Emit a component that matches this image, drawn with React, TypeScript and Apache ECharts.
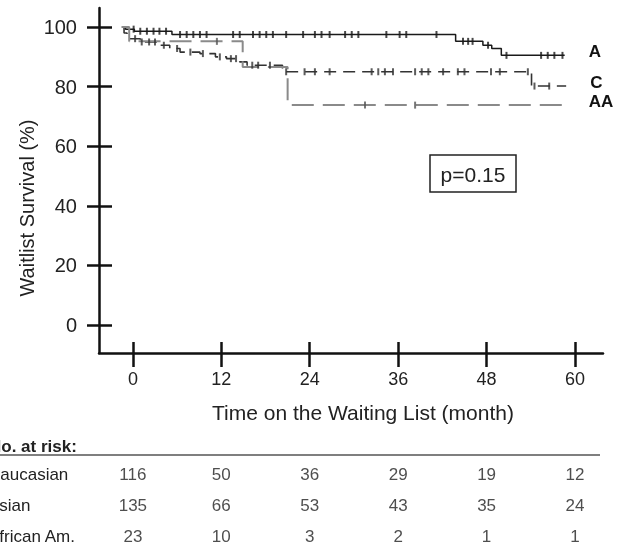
import React, { useEffect, useRef } from "react";
import * as echarts from "echarts";

// ---- Data ----
const xTicks = [0, 12, 24, 36, 48, 60];
const yTicks = [0, 20, 40, 60, 80, 100];

// Kaplan-Meier steps (time in months, survival %)
const aTimes = [-1.5, -1.0, 0.2, 5.3, 43.8, 47.5, 48.7, 50.0, 58.6];
const aSurv = [100, 99.3, 98.6, 97.5, 95.2, 93.9, 92.8, 90.5, 90.5];
const aCensor = [0.1, 1.0, 1.9, 2.8, 3.6, 4.5, 6.4, 7.3, 8.2, 9.1, 10.0, 13.6, 14.5, 16.3, 17.2, 18.1, 19.0, 20.8, 23.1, 24.7, 25.6, 26.7, 28.8, 29.7, 30.6, 34.4, 36.2, 37.1, 41.2, 44.8, 45.5, 46.1, 48.2, 50.7, 55.4, 56.3, 57.2, 58.3];

const cTimes = [-1.5, -1.2, -0.8, 1.0, 3.7, 5.0, 6.4, 9.1, 11.2, 12.7, 14.5, 15.5, 20.3, 54.1, 58.8];
const cSurv = [100, 98.0, 96.1, 95.0, 93.9, 92.8, 91.6, 91.1, 90.0, 89.4, 88.3, 87.2, 85.0, 80.2, 80.2];
const cCensor = [0.3, 1.2, 2.2, 3.0, 4.2, 6.0, 7.8, 9.5, 11.8, 13.3, 14.0, 16.2, 17.0, 18.6, 20.8, 23.3, 24.7, 26.7, 32.4, 33.3, 34.2, 35.3, 38.3, 39.2, 40.1, 42.1, 44.1, 45.0, 48.6, 49.8, 53.6, 54.5, 56.5];

const aaTimes = [-1.5, -0.5, 14.9, 21.0, 58.6];
const aaSurv = [100, 95.2, 86.6, 73.8, 73.8];
const aaCensor = [11.4, 31.5, 38.3];

// Number at risk table
const riskTimes = [0, 12, 24, 36, 48, 60];
const riskGroups = ["Caucasian", "Asian", "African Am."];
const riskCaucasian = [116, 50, 36, 29, 19, 12];
const riskAsian = [135, 66, 53, 43, 35, 24];
const riskAfrican = [23, 10, 3, 2, 1, 1];

const FONT = "'Liberation Sans', Arial, sans-serif";

function survAt(times: number[], surv: number[], t: number) {
  let v = surv[0];
  for (let i = 0; i < times.length; i++) {
    if (times[i] <= t) v = surv[i];
  }
  return v;
}

export default function App() {
  const ref = useRef<HTMLDivElement>(null);
  useEffect(() => {
    if (!ref.current) return;
    const chart = echarts.init(ref.current, undefined, { renderer: "svg" });
    const axisColor = "#111";
    const xMin = -4.6, xMax = 63.8, yMin = -9.4, yMax = 106.4;

    const kmSeries = (name: string, times: number[], surv: number[], color: string, width: number, type: any) => ({
      name,
      type: "line",
      xAxisIndex: 0,
      yAxisIndex: 0,
      step: "end",
      symbol: "none",
      data: times.map((t, i) => [t, surv[i]]),
      lineStyle: { color, width, type },
      endLabel: {
        show: true,
        formatter: "{a}",
        distance: 24,
        offset: [0, -4],
        fontFamily: FONT,
        fontWeight: "bold",
        fontSize: 17,
        color: "#111",
      },
      z: 3,
    });
    const censorSeries = (times: number[], surv: number[], censor: number[], color: string) => ({
      type: "scatter",
      xAxisIndex: 0,
      yAxisIndex: 0,
      symbol: "rect",
      symbolSize: [2, 7],
      itemStyle: { color },
      data: censor.map((t) => [t, survAt(times, surv, t)]),
      z: 4,
    });
    const riskSeries = (group: string, values: number[]) => ({
      type: "scatter",
      xAxisIndex: 2,
      yAxisIndex: 2,
      symbolSize: 0,
      data: riskTimes.map((t, i) => [t, group, values[i]]),
      label: {
        show: true,
        position: "inside",
        formatter: (p: any) => String(p.value[2]),
        fontFamily: FONT,
        fontSize: 17,
        color: "#222",
      },
    });

    chart.setOption({
      animation: false,
      grid: [
        { left: 99, top: 8, width: 504, height: 345, containLabel: false, outerBoundsMode: "none" },
        { left: 99, top: 458.5, width: 504, height: 93, containLabel: false, outerBoundsMode: "none" },
      ],
      xAxis: [
        {
          gridIndex: 0,
          type: "value",
          min: xMin,
          max: xMax,
          axisLine: { onZero: false, lineStyle: { color: axisColor, width: 2.5 } },
          axisTick: { customValues: xTicks, length: 14, lineStyle: { color: axisColor, width: 2.5 } },
          axisLabel: { customValues: xTicks, margin: 17, fontSize: 18, fontFamily: FONT, color: "#222" },
          splitLine: { show: false },
        },
        {
          gridIndex: 0,
          type: "value",
          position: "bottom",
          min: xMin,
          max: xMax,
          axisLine: { show: false, onZero: false },
          axisTick: { customValues: xTicks, inside: true, length: 11, lineStyle: { color: axisColor, width: 2.5 } },
          axisLabel: { show: false },
          splitLine: { show: false },
        },
        { gridIndex: 1, type: "value", min: xMin, max: xMax, show: false },
      ],
      yAxis: [
        {
          gridIndex: 0,
          type: "value",
          min: yMin,
          max: yMax,
          axisLine: { onZero: false, lineStyle: { color: axisColor, width: 2.5 } },
          axisTick: { customValues: yTicks, length: 12, lineStyle: { color: axisColor, width: 2.5 } },
          axisLabel: { customValues: yTicks, margin: 22, fontSize: 20, fontFamily: FONT, color: "#222" },
          splitLine: { show: false },
        },
        {
          gridIndex: 0,
          type: "value",
          position: "left",
          min: yMin,
          max: yMax,
          axisLine: { show: false, onZero: false },
          axisTick: { customValues: yTicks, inside: true, length: 13, lineStyle: { color: axisColor, width: 2.5 } },
          axisLabel: { show: false },
          splitLine: { show: false },
        },
        {
          gridIndex: 1,
          type: "category",
          data: riskGroups,
          inverse: true,
          axisLine: { show: false },
          axisTick: { show: false },
          splitLine: { show: false },
          axisLabel: { align: "left", margin: 111, fontFamily: FONT, fontSize: 17, color: "#222" },
        },
      ],
      series: [
        kmSeries("A", aTimes, aSurv, "#1a1a1a", 1.5, "solid"),
        kmSeries("C", cTimes, cSurv, "#333", 1.6, [12, 7]),
        kmSeries("AA", aaTimes, aaSurv, "#8a8a8a", 2, [22, 9]),
        censorSeries(aTimes, aSurv, aCensor, "#1a1a1a"),
        censorSeries(cTimes, cSurv, cCensor, "#333"),
        censorSeries(aaTimes, aaSurv, aaCensor, "#555"),
        riskSeries(riskGroups[0], riskCaucasian),
        riskSeries(riskGroups[1], riskAsian),
        riskSeries(riskGroups[2], riskAfrican),
      ],
      graphic: [
        {
          type: "group",
          children: [
            { type: "rect", shape: { x: 430, y: 155, width: 86, height: 37 }, style: { fill: "#fff", stroke: "#222", lineWidth: 1.5 } },
            { type: "text", x: 473, y: 174, style: { text: "p=0.15", fontFamily: FONT, fontSize: 21, fill: "#222", align: "center", verticalAlign: "middle" } },
          ],
        },
        { type: "text", x: 27, y: 208, rotation: Math.PI / 2, style: { text: "Waitlist Survival (%)", fontFamily: FONT, fontSize: 20, fill: "#222", align: "center", verticalAlign: "middle" } },
        { type: "text", x: 363, y: 412, style: { text: "Time on the Waiting List (month)", fontFamily: FONT, fontSize: 21, fill: "#222", align: "center", verticalAlign: "middle" } },
        { type: "text", x: -11, y: 446, style: { text: "No. at risk:", fontFamily: FONT, fontSize: 17, fontWeight: "bold", fill: "#222", align: "left", verticalAlign: "middle" } },
        { type: "line", shape: { x1: 0, y1: 455, x2: 600, y2: 455 }, style: { stroke: "#555", lineWidth: 1.5 } },
      ],
    });
    return () => chart.dispose();
  }, []);
  return <div ref={ref} style={{ position: "fixed", left: 0, top: 0, width: 628, height: 548 }} />;
}
